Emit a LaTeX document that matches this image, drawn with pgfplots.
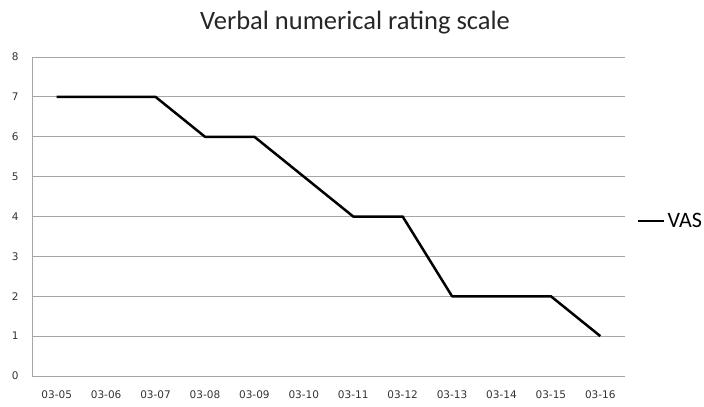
\documentclass[border=0pt]{standalone}
\usepackage{fontspec}
\setmainfont{Carlito}
\newfontfamily\tickfont{DejaVu Sans}
\usepackage{pgfplots}
\pgfplotsset{compat=1.18}
\definecolor{gridgray}{HTML}{A6A6A6}
\begin{document}
\begin{tikzpicture}[x=1bp,y=1bp]
\path[use as bounding box] (0,0) rectangle (704,406);
\node[font=\fontsize{26.5bp}{30bp}\selectfont, text=black!85] at (355,383) {Verbal numerical rating scale};
\begin{axis}[
  at={(32bp,30bp)}, anchor=south west,
  width=593bp, height=319bp, scale only axis,
  xmin=-0.5, xmax=11.5, ymin=0, ymax=8,
  ytick={0,...,8},
  xtick={0,...,11},
  xticklabels={03-05,03-06,03-07,03-08,03-09,03-10,03-11,03-12,03-13,03-14,03-15,03-16},
  major x tick style={draw=none},
  major y tick style={draw=none},
  extra x ticks={-0.5,0.5,...,11.5},
  extra x tick labels={},
  extra x tick style={grid=none, major tick length=4bp, tick align=outside, tick style={draw=gridgray, line width=0.8bp}},
  axis x line*=bottom, axis y line*=left,
  axis line style={draw=gridgray, line width=1bp, -},
  ymajorgrids, grid style={draw=gridgray, line width=0.8bp},
  ticklabel style={font=\tickfont\fontsize{10.5bp}{12bp}\selectfont, text=black!80},
  /pgf/number format/assume math mode=true,
  yticklabel style={xshift=-10bp},
  xticklabel style={yshift=-11bp},
  legend style={at={(1.02,0.486)}, anchor=west, draw=none, fill=none, font=\fontsize{22bp}{26bp}\selectfont, inner sep=0pt},
  legend image code/.code={\draw[#1, line width=2.5bp] (0bp,0bp) -- (26bp,0bp);},
  clip=false,
]
\addplot[black, line width=2.5bp, line join=round] coordinates {
(0,7) (1,7) (2,7) (3,6) (4,6) (5,5) (6,4) (7,4) (8,2) (9,2) (10,2) (11,1)
};
\addlegendentry{VAS}
\end{axis}
\end{tikzpicture}
\end{document}
